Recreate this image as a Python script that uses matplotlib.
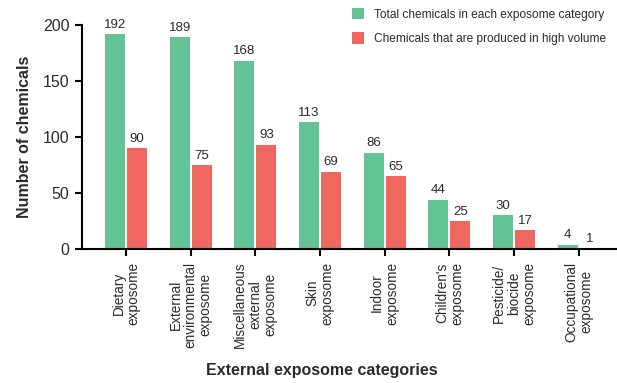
import matplotlib
matplotlib.use("Agg")
import matplotlib.pyplot as plt
import numpy as np

categories = [
    "Dietary\nexposome",
    "External\nenvironmental\nexposome",
    "Miscellaneous\nexternal\nexposome",
    "Skin\nexposome",
    "Indoor\nexposome",
    "Children's\nexposome",
    "Pesticide/\nbiocide\nexposome",
    "Occupational\nexposome",
]
total_chemicals = [192, 189, 168, 113, 86, 44, 30, 4]
high_volume = [90, 75, 93, 69, 65, 25, 17, 1]
series_labels = ["Total chemicals in each exposome category",
                 "Chemicals that are produced in high volume"]
y_ticks = [0, 50, 100, 150, 200]

GREEN = "#63c395"
RED = "#f0675f"
TEXT = "#2a2a2a"

plt.rcParams["font.family"] = ["Liberation Sans", "DejaVu Sans"]

fig = plt.figure(figsize=(6.17, 3.83), dpi=100)
ax = fig.add_axes([82 / 617, 1 - 249 / 383, 1 - 82 / 617, 224 / 383])

x = np.arange(len(categories))
w = 0.31
off = 0.17
b1 = ax.bar(x - off, total_chemicals, w, color=GREEN, label=series_labels[0])
b2 = ax.bar(x + off, high_volume, w, color=RED, label=series_labels[1])

for bars, vals in ((b1, total_chemicals), (b2, high_volume)):
    for rect, v in zip(bars, vals):
        ax.text(rect.get_x() + rect.get_width() / 2, v + 3, str(v),
                ha="center", va="bottom", fontsize=9.5, color=TEXT, clip_on=False)

ax.set_xlim(-0.68, 7.59)
ax.set_ylim(0, 200)
ax.set_yticks(y_ticks)
ax.set_xticks(x)
ax.set_xticklabels(categories, rotation=90, ha="center", va="top",
                   multialignment="center", fontsize=9.8, color=TEXT, linespacing=1.1)
ax.tick_params(axis="y", labelsize=11.5, colors=TEXT, length=5, width=1.5, direction="out", pad=4)
ax.tick_params(axis="x", length=5, width=1.5, direction="out", pad=4)
ax.tick_params(axis="both", color="black")

for s in ("top", "right"):
    ax.spines[s].set_visible(False)
for s in ("left", "bottom"):
    ax.spines[s].set_linewidth(1.5)
    ax.spines[s].set_color("black")

ax.set_ylabel("Number of chemicals", fontsize=11.5, fontweight="bold", color=TEXT, labelpad=8)
fig.text(322 / 617, 1 - 370 / 383, "External exposome categories",
         ha="center", va="center", fontsize=11.5, fontweight="bold", color=TEXT)

leg = ax.legend(loc="upper left", bbox_to_anchor=(0.485, 1.125), frameon=False,
                fontsize=8.6, handlelength=1.0, handleheight=1.1, handletextpad=0.8,
                labelspacing=1.0, labelcolor=TEXT)

fig.savefig("out.png", dpi=100)
